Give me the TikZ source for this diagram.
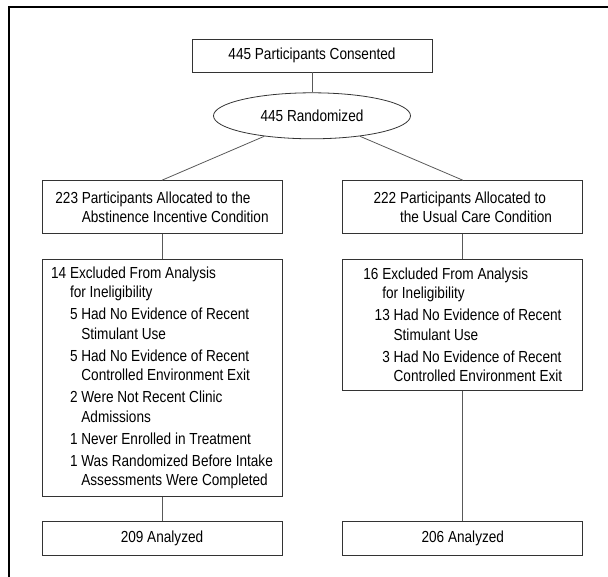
\documentclass[tikz,border=0pt]{standalone}
\usepackage{fontspec}
\setmainfont{Liberation Sans}[FakeStretch=0.85]
\usepackage{tikz}
\usetikzlibrary{shapes.geometric,positioning}

\begin{document}
\begin{tikzpicture}[
    x=1pt,y=-1pt,
    box/.style={draw=black!80,line width=0.8pt,minimum width=240pt,align=left,inner sep=4pt,font=\fontsize{16}{19.5}\selectfont},
    oval/.style={ellipse,draw=black!80,line width=0.8pt,minimum width=197pt,minimum height=46pt,inner sep=0pt,font=\fontsize{16}{19.5}\selectfont},
    link/.style={draw=black!65,line width=0.8pt},
    frame/.style={draw=black,line width=1.4pt},
    node distance=20pt and 60pt,
]
    \useasboundingbox (0,0) rectangle (608,577);
    \draw[frame] (608,7) -- (9,7) -- (9,577);

    \node[box,align=center,minimum height=33pt] (consent) at (312,55.5) {445 Participants Consented};
    \node[oval,below=20pt of consent] (rand) {445 Randomized};

    \node[box,minimum height=53pt,below=41pt of rand,xshift=-150pt] (allocA) {223 Participants Allocated to the\\\hphantom{223 }Abstinence Incentive Condition};
    \node[box,minimum height=53pt,right=60pt of allocA] (allocB) {222 Participants Allocated to\\\hphantom{222 }the Usual Care Condition};

    \node[box,minimum height=237pt,below=25pt of allocA] (exclA) {14 Excluded From Analysis\\
        \hphantom{14 }for Ineligibility\\[2.5pt]
        \hphantom{14 }5 Had No Evidence of Recent\\
        \hphantom{14 5 }Stimulant Use\\[2.5pt]
        \hphantom{14 }5 Had No Evidence of Recent\\
        \hphantom{14 5 }Controlled Environment Exit\\[2.5pt]
        \hphantom{14 }2 Were Not Recent Clinic\\
        \hphantom{14 2 }Admissions\\[2.5pt]
        \hphantom{14 }1 Never Enrolled in Treatment\\[2.5pt]
        \hphantom{14 }1 Was Randomized Before Intake\\
        \hphantom{14 1 }Assessments Were Completed};
    \node[box,minimum height=131pt,below=25pt of allocB] (exclB) {16 Excluded From Analysis\\
        \hphantom{16 }for Ineligibility\\[2.5pt]
        \hphantom{16 }\llap{1}3 Had No Evidence of Recent\\
        \hphantom{16 3 }Stimulant Use\\[2.5pt]
        \hphantom{16 }3 Had No Evidence of Recent\\
        \hphantom{16 3 }Controlled Environment Exit};

    \node[box,align=center,minimum height=34pt,below=24pt of exclA] (anA) {209 Analyzed};
    \node[box,align=center,minimum height=34pt,right=60pt of anA] (anB) {206 Analyzed};

    \draw[link] (consent) -- (rand);
    \draw[link] (rand) -- (allocA.north);
    \draw[link] (rand) -- (allocB.north);
    \draw[link] (allocA) -- (exclA);
    \draw[link] (allocB) -- (exclB);
    \draw[link] (exclA) -- (anA);
    \draw[link] (exclB) -- (anB);
\end{tikzpicture}
\end{document}
